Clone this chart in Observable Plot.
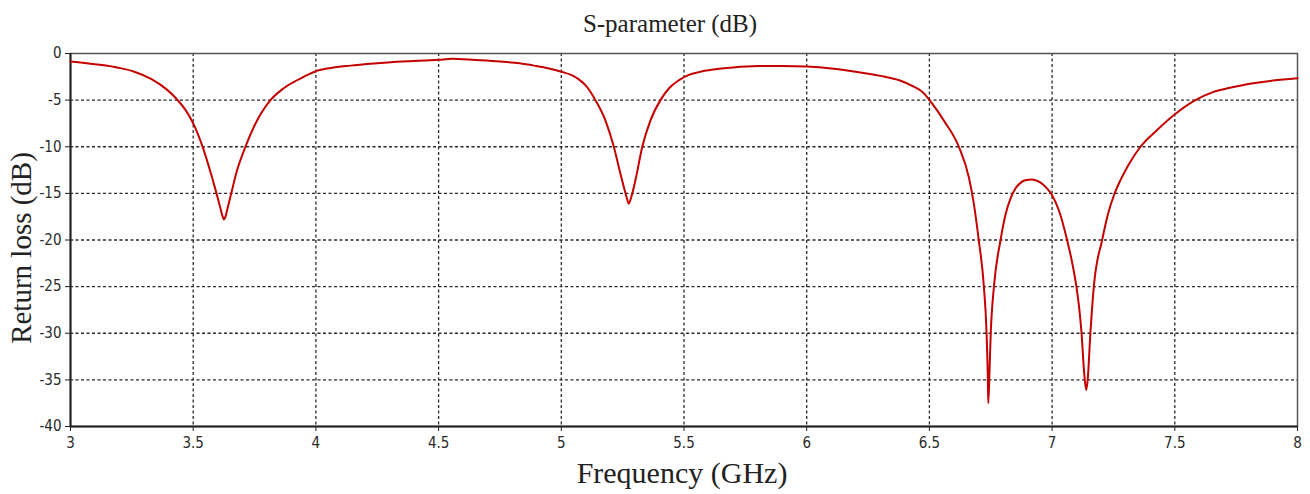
<!DOCTYPE html>
<html>
<head>
<meta charset="utf-8">
<script src="https://cdn.jsdelivr.net/npm/d3@7"></script>
<script src="https://cdn.jsdelivr.net/npm/@observablehq/plot@0.6"></script>
<style>
  html, body { margin: 0; padding: 0; background: #fff; }
  #chart svg { display: block; }
</style>
</head>
<body>
<div id="chart"></div>
<script>
// Frequency (GHz) and return loss (dB)
const freq = [3.00, 3.10, 3.20, 3.26, 3.33, 3.394, 3.435, 3.47, 3.50, 3.537, 3.577, 3.595, 3.61, 3.62, 3.625, 3.63, 3.64, 3.655, 3.679, 3.713, 3.754, 3.815, 3.86, 3.90, 3.95, 4.00, 4.06, 4.14, 4.25, 4.35, 4.50, 4.555, 4.65, 4.75, 4.83, 4.89, 4.95, 5.00, 5.04, 5.07, 5.10, 5.139, 5.18, 5.214, 5.241, 5.265, 5.275, 5.285, 5.302, 5.33, 5.363, 5.404, 5.44, 5.48, 5.52, 5.56, 5.62, 5.70, 5.80, 5.90, 6.00, 6.10, 6.20, 6.30, 6.38, 6.436, 6.475, 6.504, 6.53, 6.559, 6.62, 6.661, 6.681, 6.701, 6.722, 6.733, 6.738, 6.740, 6.745, 6.75, 6.763, 6.79, 6.81, 6.83, 6.85, 6.87, 6.89, 6.918, 6.95, 6.98, 7.00, 7.03, 7.061, 7.08, 7.099, 7.11, 7.12, 7.13, 7.139, 7.145, 7.156, 7.17, 7.204, 7.23, 7.252, 7.28, 7.31, 7.36, 7.43, 7.503, 7.584, 7.65, 7.73, 7.82, 7.90, 8.00];
const returnLoss = [-0.85, -1.15, -1.55, -1.95, -2.75, -3.9, -4.95, -6.1, -7.5, -9.9, -13.3, -15.0, -16.5, -17.5, -17.8, -17.6, -16.6, -15.0, -12.5, -10.0, -7.5, -5.0, -3.9, -3.2, -2.5, -1.9, -1.55, -1.3, -1.05, -0.86, -0.68, -0.57, -0.7, -0.86, -1.05, -1.3, -1.6, -1.95, -2.3, -2.75, -3.45, -5.0, -7.2, -10.0, -12.9, -15.3, -16.1, -15.4, -13.6, -10.0, -7.2, -5.0, -3.7, -2.85, -2.3, -2.0, -1.72, -1.5, -1.35, -1.33, -1.4, -1.6, -1.95, -2.4, -2.9, -3.55, -4.2, -5.1, -6.05, -7.2, -10.0, -13.3, -16.1, -20.0, -25.0, -30.0, -34.7, -37.5, -34.0, -30.0, -25.0, -20.0, -17.3, -15.6, -14.5, -13.9, -13.6, -13.5, -13.8, -14.5, -15.2, -17.0, -20.0, -22.2, -25.0, -27.2, -30.0, -34.0, -36.1, -35.0, -30.0, -25.0, -20.0, -17.0, -15.2, -13.5, -12.0, -10.0, -8.15, -6.46, -5.0, -4.2, -3.65, -3.2, -2.9, -2.65];

const xTicks = [3, 3.5, 4, 4.5, 5, 5.5, 6, 6.5, 7, 7.5, 8];
const yTicks = [0, -5, -10, -15, -20, -25, -30, -35, -40];
const xGrid = [3.5, 4, 4.5, 5, 5.5, 6, 6.5, 7, 7.5];
const yGrid = [-5, -10, -15, -20, -25, -30, -35];

const titleText = ["S-parameter (dB)"];
const xLabel = ["Frequency (GHz)"];
const yLabel = ["Return loss (dB)"];

const data = freq.map((f, i) => ({f, v: returnLoss[i]}));

const serif = "'Liberation Serif', 'Times New Roman', serif";
const sans = "'DejaVu Sans Condensed', 'DejaVu Sans', sans-serif";

const chart = Plot.plot({
  width: 1310,
  height: 494,
  marginTop: 53,
  marginBottom: 68,
  marginLeft: 70,
  marginRight: 13,
  style: {background: "#fff", overflow: "visible", fontSize: "15px", fontFamily: sans},
  x: {domain: [3, 8]},
  y: {domain: [-40, 0]},
  marks: [
    Plot.ruleX(xGrid, {stroke: "#2a2a2a", strokeWidth: 1.3, strokeDasharray: "3,2.5"}),
    Plot.ruleY(yGrid, {stroke: "#2a2a2a", strokeWidth: 1.3, strokeDasharray: "3,2.5"}),
    Plot.frame({stroke: "#555", strokeWidth: 1.5}),
    Plot.ruleX([3], {stroke: "#222", strokeWidth: 2}),
    Plot.ruleY([-40], {stroke: "#222", strokeWidth: 2}),
    Plot.axisX(xTicks, {
      tickSize: 5, tickPadding: 6, tickFormat: d => String(d),
      fontSize: 15, fontFamily: sans, fill: "#2a2a2a", stroke: "#222", label: null
    }),
    Plot.axisY(yTicks, {
      tickSize: 5, tickPadding: 4, tickFormat: d => String(d),
      fontSize: 15, fontFamily: sans, fill: "#2a2a2a", stroke: "#222", label: null
    }),
    Plot.line(data, {x: "f", y: "v", stroke: "#c40000", strokeWidth: 2, curve: "monotone-x"}),
    Plot.text(titleText, {frameAnchor: "top", textAnchor: "middle", lineAnchor: "bottom", dx: -14, dy: -22, fontSize: 25, fontFamily: serif, fill: "#222"}),
    Plot.text(xLabel, {frameAnchor: "bottom", textAnchor: "middle", lineAnchor: "bottom", dx: -2, dy: 56, fontSize: 30, fontFamily: serif, fill: "#222"}),
    Plot.text(yLabel, {frameAnchor: "left", textAnchor: "middle", lineAnchor: "bottom", rotate: -90, dx: -40, dy: 8, fontSize: 29, fontFamily: serif, fill: "#222"})
  ]
});

document.getElementById("chart").appendChild(chart);
</script>
</body>
</html>
